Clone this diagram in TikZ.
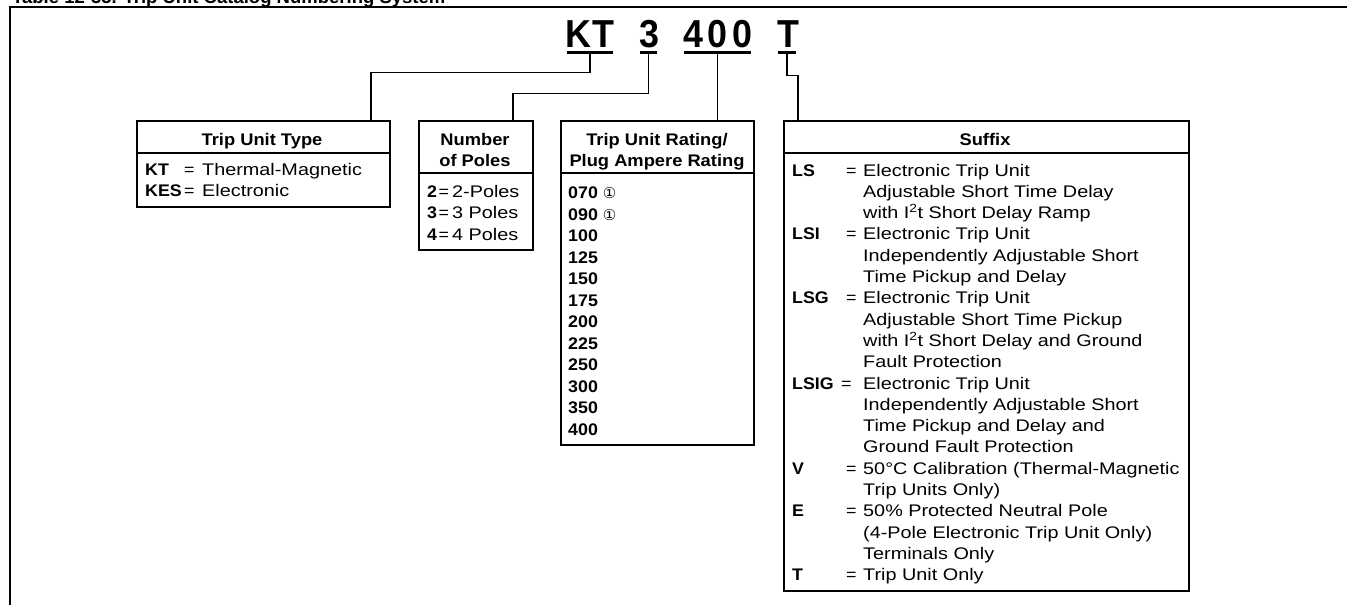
\documentclass[tikz,border=0pt]{standalone}
\usepackage{fontspec}
\setmainfont{Liberation Sans}
\newfontfamily\bodyfont[FakeStretch=1.18]{Liberation Sans}
\newfontfamily\boldfont[FakeStretch=1.06]{Liberation Sans}
\newfontfamily\hdrfont[FakeStretch=1.09]{Liberation Sans}
\newfontfamily\codefont[FakeStretch=0.92]{Liberation Sans}
\newfontfamily\circfont{DejaVu Sans}
\newcommand{\bsz}{\fontsize{16.8}{21.3}\selectfont}
\newcommand{\kb}[1]{{\boldfont\bfseries #1}}
\newcommand{\eq}{{\boldfont\mdseries =}}
\newcommand{\cone}{{\circfont\mdseries\fontsize{15}{15}\selectfont ①}}
\tikzset{
  box/.style={draw, line width=1.8pt, inner sep=0pt, anchor=north west},
  sepline/.style={line width=1.8pt},
  conn/.style={line width=1.4pt},
  uline/.style={fill=black, inner sep=0pt, minimum height=3pt},
  code/.style={font=\codefont\bfseries\fontsize{39}{39}\selectfont, inner sep=0pt, anchor=base west},
  hdr/.style={font=\hdrfont\bfseries\bsz, inner sep=0pt, anchor=base},
  txt/.style={font=\bodyfont\bsz, inner sep=0pt, anchor=base west},
  frame/.style={line width=2pt},
}
\begin{document}
\begin{tikzpicture}[x=1pt,y=-1pt]
\useasboundingbox (0,0) rectangle (1347,605);
\clip (0,0) rectangle (1347,605);
% title (cut off at top) and frame
\node[anchor=base west, inner sep=0pt, font=\bfseries\fontsize{18.5}{18.5}\selectfont] (title) at (12,3) {Table 12-35. Trip Unit Catalog Numbering System};
\draw[frame] (10,606) -- (10,7) -- (1348,7);

% catalog number
\node[code] (kt) at (565,47) {K\kern1.5pt T};
\node[code] (three) at (639,47) {3};
\node[code] (four) at (683,47) {4\kern4.5pt 0\kern4.5pt 0};
\node[code] (tee) at (777,47) {T};
\node[uline, minimum width=46pt] (ktu) at (590,52) {};
\node[uline, minimum width=17pt] (threeu) at (648.5,52) {};
\node[uline, minimum width=67pt] (fouru) at (717.5,52) {};
\node[uline, minimum width=18pt] (teeu) at (787,52) {};

% boxes
\node[box, minimum width=253pt, minimum height=86pt] (tut) at (136,120) {};
\node[box, minimum width=114pt, minimum height=129pt] (nop) at (418,120) {};
\node[box, minimum width=193pt, minimum height=324pt] (tur) at (560,120) {};
\node[box, minimum width=405pt, minimum height=470pt] (suf) at (783,120) {};
\draw[sepline] ([yshift=-33pt]tut.north west) -- ([yshift=-33pt]tut.north east);
\draw[sepline] ([yshift=-53pt]nop.north west) -- ([yshift=-53pt]nop.north east);
\draw[sepline] ([yshift=-53pt]tur.north west) -- ([yshift=-53pt]tur.north east);
\draw[sepline] ([yshift=-33pt]suf.north west) -- ([yshift=-33pt]suf.north east);

% connectors
\draw[conn] (ktu.south) -- ++(0,19) -| ([xshift=235pt]tut.north west);
\draw[conn] (threeu.south) -- ++(0,40) -| ([xshift=95pt]nop.north west);
\draw[conn] (fouru.south) -- (fouru.south |- tur.north);
\draw[conn] (teeu.south) -- ++(0,22) -| ([xshift=15pt]suf.north west);

% headers
\node[hdr] (h1) at (262,145) {Trip Unit Type};
\node[hdr] (h2) at (475,145) {\begin{tabular}[t]{@{}c@{}}Number\\of Poles\end{tabular}};
\node[hdr] (h3) at (657,145) {\begin{tabular}[t]{@{}c@{}}Trip Unit Rating/\\Plug Ampere Rating\end{tabular}};
\node[hdr] (h4) at (985,145) {Suffix};

% body texts
\node[txt] (b1) at (145,175) {\begin{tabular}[t]{@{}p{39pt}@{}p{18pt}@{}l@{}}
\kb{KT} & \eq & Thermal-Magnetic\\
\kb{KES} & \eq & Electronic
\end{tabular}};
\node[txt] (b2) at (427,197.5) {\begin{tabular}[t]{@{}p{11.5pt}@{}p{13.5pt}@{}l@{}}
\kb{2} & \eq & 2-Poles\\
\kb{3} & \eq & 3 Poles\\
\kb{4} & \eq & 4 Poles
\end{tabular}};
\node[txt, font=\boldfont\bfseries\fontsize{16.8}{21.5}\selectfont] (b3) at (568,198.5) {\begin{tabular}[t]{@{}l@{}}
070 \cone\\090 \cone\\100\\125\\150\\175\\200\\225\\250\\300\\350\\400
\end{tabular}};
\node[txt] (b4) at (792,176) {\begin{tabular}[t]{@{}p{54pt}@{}p{17pt}@{}l@{}}
\kb{LS} & \eq & Electronic Trip Unit\\
 & & Adjustable Short Time Delay\\
 & & with I\textsuperscript{2}t Short Delay Ramp\\
\kb{LSI} & \eq & Electronic Trip Unit\\
 & & Independently Adjustable Short\\
 & & Time Pickup and Delay\\
\kb{LSG} & \eq & Electronic Trip Unit\\
 & & Adjustable Short Time Pickup\\
 & & with I\textsuperscript{2}t Short Delay and Ground\\
 & & Fault Protection\\
\kb{LSIG} & \hspace*{-5pt}\eq & Electronic Trip Unit\\
 & & Independently Adjustable Short\\
 & & Time Pickup and Delay and\\
 & & Ground Fault Protection\\
\kb{V} & \eq & 50°C Calibration (Thermal-Magnetic\\
 & & Trip Units Only)\\
\kb{E} & \eq & 50\% Protected Neutral Pole\\
 & & (4-Pole Electronic Trip Unit Only)\\
 & & Terminals Only\\
\kb{T} & \eq & Trip Unit Only
\end{tabular}};
\end{tikzpicture}
\end{document}
